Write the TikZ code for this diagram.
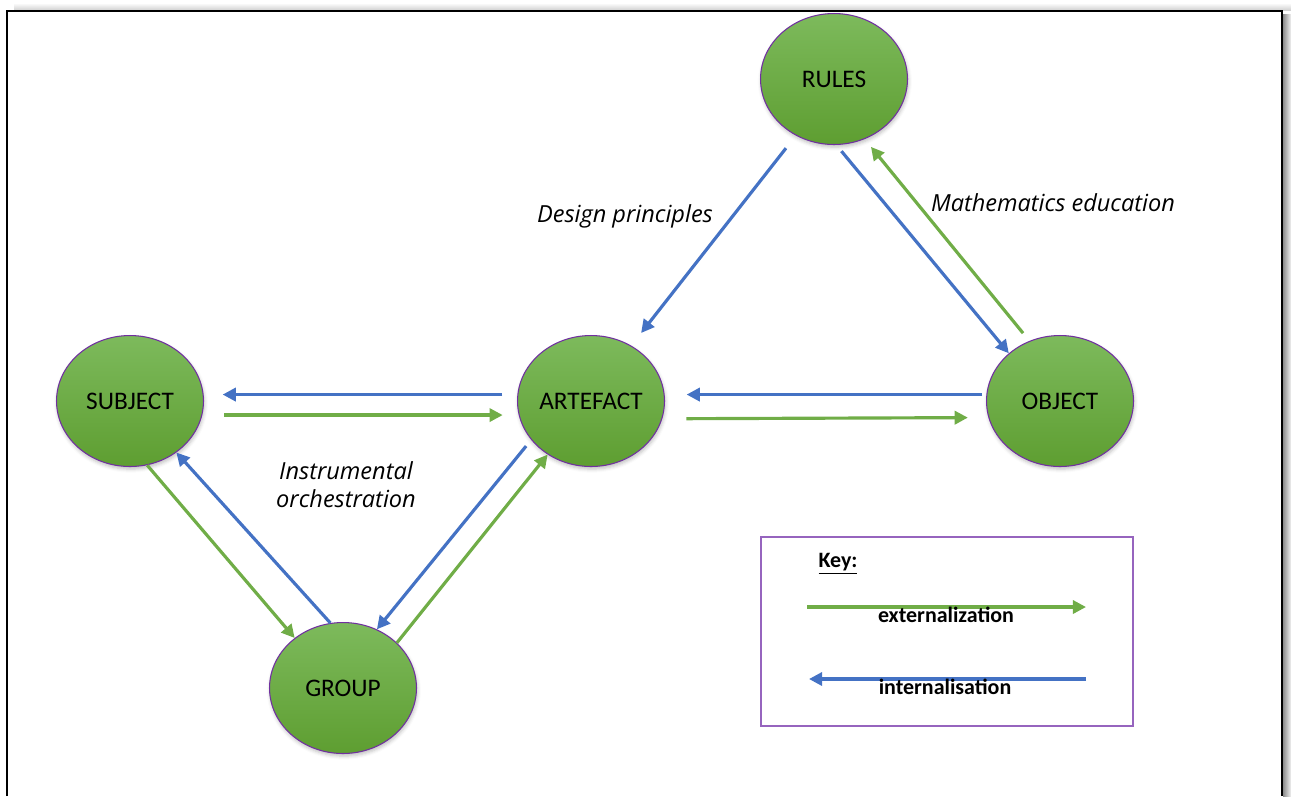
\documentclass[tikz,border=0pt]{standalone}
\usepackage{fontspec}
\setmainfont{Carlito}
\newfontfamily\notefont{Open Sans}
\usepackage{xcolor}
\usepackage{tikz}
\usetikzlibrary{shapes.geometric,arrows.meta}
\usetikzlibrary{shadows.blur}
\tikzset{every picture/.style={line width=0.75pt}}
\definecolor{extgreen}{RGB}{112,173,71}
\definecolor{intblue}{RGB}{68,114,196}
\definecolor{stagetop}{RGB}{125,186,92}
\definecolor{stagebot}{RGB}{94,158,49}
\definecolor{rim}{RGB}{112,48,160}
\definecolor{keyrim}{RGB}{150,100,190}
\tikzset{
  stage/.style={ellipse, draw=rim, line width=0.6pt, top color=stagetop, bottom color=stagebot,
    minimum width=2.94cm, minimum height=2.62cm, inner sep=0pt, font=\fontsize{14.4}{16}\selectfont,
    blur shadow={shadow xshift=0.5pt, shadow yshift=-1.5pt, shadow blur radius=2pt, shadow opacity=25}},
  ext/.style={draw=extgreen, line width=1.8pt, -{Triangle[length=7.5pt,width=7.5pt]}},
  int/.style={draw=intblue, line width=1.8pt, -{Triangle[length=7.5pt,width=7.5pt]}},
  note/.style={font=\notefont\itshape\fontsize{13.4}{16}\selectfont, align=center},
  keytext/.style={font=\bfseries\fontsize{12.5}{14}\selectfont}
}

\begin{document}
\begin{tikzpicture}[x=0.02cm,y=-0.02cm]
\useasboundingbox (0,0) rectangle (1291,796);
% frame
\shade[top color=white, bottom color=black!18] (14,3) rectangle (1291,10);
\shade[left color=black!45, right color=black!5] (1283,14) rectangle (1291,796);
\draw[line width=1.2pt] (7,796) -- (7,11) -- (1282,11) -- (1282,796);
%
\node (rules) at (834,79) [stage] {RULES};
\node (subject) at (130,401) [stage] {SUBJECT};
\node (artefact) at (591,401) [stage] {ARTEFACT};
\node (object) at (1060,401) [stage] {OBJECT};
\node (group) at (343,688) [stage] {GROUP};
%
\draw[int, shorten <=0.32cm, shorten >=0.32cm] (rules.236) -- (artefact.54);
\draw[int, shorten <=0.16cm] (rules.272) -- (object.137);
\draw[ext, shorten <=0.2cm, shorten >=0.2cm] (object.117) -- (rules.297);
%
\draw[int, shorten <=0.3cm, shorten >=0.38cm] (artefact.175) -- (subject.5);
\draw[ext, shorten <=0.44cm, shorten >=0.32cm] (subject.349) -- (artefact.191);
\draw[int, shorten <=0.08cm, shorten >=0.44cm] (object.175) -- (artefact.5);
\draw[ext, shorten <=0.48cm, shorten >=0.41cm] (artefact.346) -- (object.193);
%
\draw[ext] (subject.285) -- (group.134);
\draw[int] (group.101) -- (subject.312);
\draw[int, shorten <=0.16cm] (artefact.213) -- (group.60);
\draw[ext] (group.40) -- (artefact.231);
%
\node (design) at (625,216) [note] {Design principles};
\node (matheds) at (1053,203) [note] {Mathematics education};
\node (instr) at (346,485) [note] {Instrumental\\orchestration};
%
\draw[keyrim, line width=1pt] (761,537) rectangle (1133,726);
\node (keytitle) at (838,564) [keytext] {\underline{Key:}};
\coordinate (extA) at (807,607);
\coordinate (extB) at (1086,607);
\draw[ext] (extA) -- (extB);
\node (exttext) at (946,615) [keytext] {externalization};
\coordinate (intA) at (1086,679);
\coordinate (intB) at (809,679);
\draw[int] (intA) -- (intB);
\node (inttext) at (945,687) [keytext] {internalisation};
\end{tikzpicture}
\end{document}
